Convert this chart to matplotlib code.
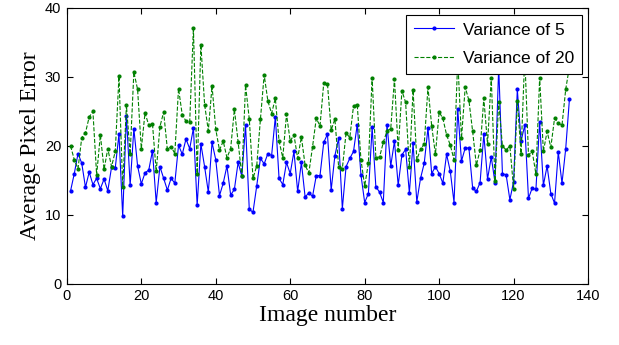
import matplotlib
matplotlib.use("Agg")
import matplotlib.pyplot as plt
import numpy as np

# ---------------------------------------------------
# DATA
# ---------------------------------------------------

image_number = np.arange(1, 136)

variance_5 = [
    13.5, 16.0, 18.9, 17.5, 14.0, 16.2, 14.4, 15.3, 13.8, 15.2,
    13.5, 16.9, 16.8, 21.7, 9.8, 24.4, 14.3, 22.5, 17.1, 14.5,
    16.1, 16.5, 19.3, 11.8, 17.0, 15.3, 13.6, 15.3, 14.6, 20.1,
    18.8, 21.0, 19.6, 22.6, 11.4, 20.3, 17.0, 13.3, 20.5, 18.0,
    12.8, 14.6, 17.1, 12.9, 13.7, 17.6, 15.6, 23.0, 10.8, 10.4,
    14.2, 18.2, 17.4, 18.9, 18.6, 24.2, 15.3, 14.4, 17.6, 16.0,
    19.2, 13.4, 17.6, 12.6, 13.2, 12.7, 15.7, 15.7, 20.5, 21.7,
    13.6, 18.6, 21.1, 10.9, 17.0, 18.2, 19.2, 23.1, 15.8, 11.8,
    13.1, 22.7, 14.1, 13.3, 11.8, 23.1, 17.1, 20.7, 14.3, 18.7,
    19.5, 13.2, 20.4, 11.9, 15.3, 17.5, 22.6, 16.0, 17.0, 16.0,
    14.6, 18.8, 16.3, 11.8, 25.3, 17.8, 19.7, 19.7, 13.9, 13.4,
    14.7, 21.7, 15.2, 18.4, 14.7, 31.5, 16.0, 15.8, 12.2, 14.8,
    28.2, 20.7, 23.0, 12.4, 13.9, 13.7, 23.5, 14.3, 17.1, 13.1,
    11.7, 19.1, 14.6, 19.6, 26.8,
]

variance_20 = [
    20.0, 18.0, 16.7, 21.2, 21.9, 24.2, 25.0, 15.8, 21.6, 16.6,
    19.6, 17.0, 19.2, 30.1, 14.1, 25.9, 18.8, 30.7, 28.2, 19.6,
    24.8, 23.0, 23.2, 16.3, 22.8, 24.9, 19.5, 19.9, 18.9, 28.3,
    24.5, 23.6, 23.5, 37.1, 16.0, 34.7, 26.0, 22.2, 28.7, 22.4,
    19.4, 20.7, 18.3, 19.6, 25.3, 20.6, 15.6, 28.8, 23.9, 15.3,
    17.1, 23.9, 30.3, 26.5, 24.7, 26.9, 20.7, 18.3, 24.6, 20.7,
    21.6, 18.2, 21.3, 17.2, 16.1, 19.9, 24.0, 22.9, 29.1, 29.0,
    22.3, 23.9, 17.0, 16.7, 21.9, 21.2, 25.8, 26.0, 18.0, 14.2,
    17.5, 29.9, 18.3, 18.4, 20.5, 22.2, 22.5, 29.7, 19.4, 28.0,
    26.3, 16.9, 28.1, 18.0, 19.5, 20.3, 28.5, 22.9, 18.8, 24.9,
    24.0, 21.6, 20.1, 18.0, 32.5, 21.1, 28.5, 26.6, 22.1, 17.2,
    19.4, 26.9, 20.3, 29.9, 14.9, 26.4, 20.0, 19.4, 20.0, 13.8,
    26.5, 18.9, 33.0, 18.7, 19.2, 15.9, 29.9, 19.2, 22.1, 19.8,
    24.0, 23.3, 23.0, 28.2, 31.5,
]

x_ticks = [0, 20, 40, 60, 80, 100, 120, 140]
y_ticks = [0, 10, 20, 30, 40]

# ---------------------------------------------------
# PLOT
# ---------------------------------------------------

fig = plt.figure(figsize=(6.19, 3.45), dpi=100)
ax = fig.add_axes([0.108, 0.177, 0.842, 0.800])

ax.plot(image_number, variance_5, color="#0000ff", linestyle="-",
        linewidth=0.8, marker=".", markersize=4, label="Variance of 5")
ax.plot(image_number, variance_20, color="#008000", linestyle="--",
        linewidth=0.8, marker=".", markersize=4, label="Variance of 20")

ax.set_xlim(0, 140)
ax.set_ylim(0, 40)
ax.set_xticks(x_ticks)
ax.set_yticks(y_ticks)

ax.tick_params(direction="in", top=True, right=True, length=4,
               labelsize=10.5, pad=4)
for lab in ax.get_xticklabels() + ax.get_yticklabels():
    lab.set_family("Liberation Sans")

ax.set_xlabel("Image number", family="Liberation Serif", fontsize=17,
              labelpad=1)
ax.set_ylabel("Average Pixel Error", family="Liberation Serif",
              fontsize=17, labelpad=3)

leg = ax.legend(loc="upper right", bbox_to_anchor=(0.988, 0.976),
                prop={"family": "Liberation Sans", "size": 12.5},
                fancybox=False, framealpha=1, edgecolor="black",
                borderpad=0.45, handlelength=2.3, handletextpad=0.5,
                labelspacing=0.75, borderaxespad=0)
leg.get_frame().set_linewidth(0.8)

fig.savefig("out.png", dpi=100)
plt.close(fig)
